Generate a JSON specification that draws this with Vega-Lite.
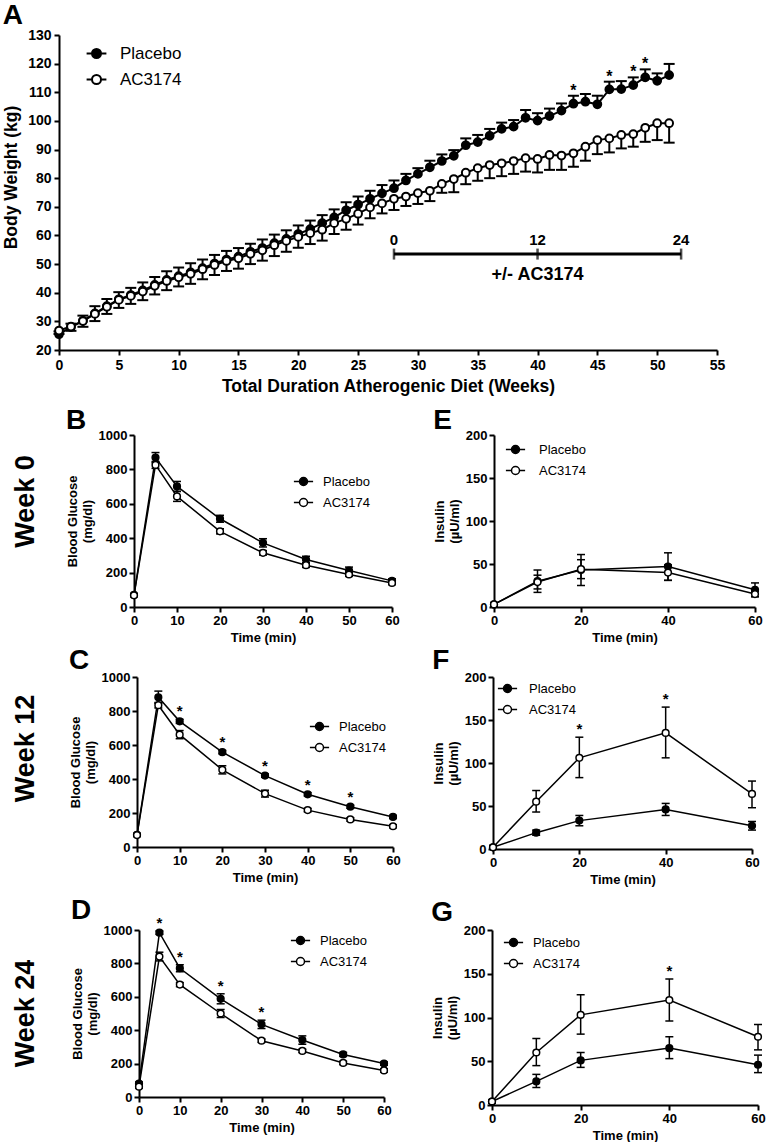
{
  "$schema": "https://vega.github.io/schema/vega-lite/v6.json",
  "background": "white",
  "padding": {"top": 2, "left": 2, "right": 0, "bottom": 0},
  "config": {
    "font": "Liberation Sans",
    "view": {"stroke": null},
    "axis": {"grid": false, "domainColor": "black", "domainWidth": 2, "tickColor": "black", "tickWidth": 2, "tickSize": 5, "labelColor": "black", "labelFontWeight": "bold", "titleColor": "black", "titleFontWeight": "bold", "labelFlush": false, "labelOverlap": false, "labelFontSize": 13, "titleFontSize": 13, "labelPadding": 2, "titlePadding": 4, "tickCount": 50},
    "title": {"color": "black", "fontWeight": "bold"},
    "legend": {"labelColor": "black", "labelFont": "Liberation Sans", "padding": 0}
  },
  "datasets": {
    "bw": [
      {"week":0,"group":"Placebo","bw":25.5,"err":26.5},{"week":1,"group":"Placebo","bw":28.0,"err":29.2},{"week":2,"group":"Placebo","bw":30.2,"err":32.0},{"week":3,"group":"Placebo","bw":32.8,"err":35.3},{"week":4,"group":"Placebo","bw":35.3,"err":37.8},{"week":5,"group":"Placebo","bw":37.7,"err":40.2},{"week":6,"group":"Placebo","bw":39.2,"err":41.7},{"week":7,"group":"Placebo","bw":40.8,"err":43.6},{"week":8,"group":"Placebo","bw":42.7,"err":45.5},{"week":9,"group":"Placebo","bw":44.5,"err":47.5},{"week":10,"group":"Placebo","bw":45.8,"err":48.8},{"week":11,"group":"Placebo","bw":47.1,"err":50.3},{"week":12,"group":"Placebo","bw":48.6,"err":51.6},{"week":13,"group":"Placebo","bw":50.2,"err":53.2},{"week":14,"group":"Placebo","bw":51.6,"err":54.6},{"week":15,"group":"Placebo","bw":52.6,"err":55.6},{"week":16,"group":"Placebo","bw":54.3,"err":57.1},{"week":17,"group":"Placebo","bw":55.6,"err":58.6},{"week":18,"group":"Placebo","bw":57.3,"err":60.3},{"week":19,"group":"Placebo","bw":58.8,"err":61.8},{"week":20,"group":"Placebo","bw":60.5,"err":63.5},{"week":21,"group":"Placebo","bw":62.2,"err":65.2},{"week":22,"group":"Placebo","bw":64.3,"err":67.1},{"week":23,"group":"Placebo","bw":66.3,"err":69.1},{"week":24,"group":"Placebo","bw":68.8,"err":71.6},{"week":25,"group":"Placebo","bw":70.8,"err":73.6},{"week":26,"group":"Placebo","bw":72.8,"err":75.6},{"week":27,"group":"Placebo","bw":74.7,"err":77.6},{"week":28,"group":"Placebo","bw":76.5,"err":79.2},{"week":29,"group":"Placebo","bw":79.2,"err":81.5},{"week":30,"group":"Placebo","bw":81.5,"err":83.5},{"week":31,"group":"Placebo","bw":83.8,"err":86.1},{"week":32,"group":"Placebo","bw":86.0,"err":88.3},{"week":33,"group":"Placebo","bw":87.8,"err":89.8},{"week":34,"group":"Placebo","bw":91.5,"err":93.9},{"week":35,"group":"Placebo","bw":92.6,"err":95.1},{"week":36,"group":"Placebo","bw":94.8,"err":97.2},{"week":37,"group":"Placebo","bw":97.2,"err":99.4},{"week":38,"group":"Placebo","bw":98.0,"err":100.3},{"week":39,"group":"Placebo","bw":101.1,"err":103.8},{"week":40,"group":"Placebo","bw":100.1,"err":102.7},{"week":41,"group":"Placebo","bw":101.7,"err":104.3},{"week":42,"group":"Placebo","bw":103.6,"err":106.1},{"week":43,"group":"Placebo","bw":106.0,"err":108.8,"sig":"*"},{"week":44,"group":"Placebo","bw":106.7,"err":109.4},{"week":45,"group":"Placebo","bw":105.8,"err":108.8},{"week":46,"group":"Placebo","bw":111.0,"err":113.7,"sig":"*"},{"week":47,"group":"Placebo","bw":111.1,"err":113.9},{"week":48,"group":"Placebo","bw":112.5,"err":115.2,"sig":"*"},{"week":49,"group":"Placebo","bw":115.2,"err":118.0,"sig":"*"},{"week":50,"group":"Placebo","bw":114.0,"err":116.6},{"week":51,"group":"Placebo","bw":116.0,"err":119.9},
      {"week":0,"group":"AC3174","bw":26.8,"err":25.6},{"week":1,"group":"AC3174","bw":28.2,"err":26.7},{"week":2,"group":"AC3174","bw":30.1,"err":28.1},{"week":3,"group":"AC3174","bw":32.6,"err":30.1},{"week":4,"group":"AC3174","bw":35.1,"err":32.6},{"week":5,"group":"AC3174","bw":37.5,"err":34.7},{"week":6,"group":"AC3174","bw":38.9,"err":36.1},{"week":7,"group":"AC3174","bw":40.4,"err":37.4},{"week":8,"group":"AC3174","bw":42.4,"err":39.4},{"week":9,"group":"AC3174","bw":44.1,"err":40.9},{"week":10,"group":"AC3174","bw":45.4,"err":42.2},{"week":11,"group":"AC3174","bw":46.6,"err":43.1},{"week":12,"group":"AC3174","bw":48.2,"err":44.7},{"week":13,"group":"AC3174","bw":49.7,"err":46.2},{"week":14,"group":"AC3174","bw":51.1,"err":47.6},{"week":15,"group":"AC3174","bw":52.0,"err":48.4},{"week":16,"group":"AC3174","bw":53.6,"err":50.0},{"week":17,"group":"AC3174","bw":54.8,"err":51.2},{"week":18,"group":"AC3174","bw":56.6,"err":52.8},{"week":19,"group":"AC3174","bw":58.1,"err":54.3},{"week":20,"group":"AC3174","bw":59.5,"err":55.7},{"week":21,"group":"AC3174","bw":60.8,"err":57.0},{"week":22,"group":"AC3174","bw":62.0,"err":58.2},{"week":23,"group":"AC3174","bw":64.3,"err":60.5},{"week":24,"group":"AC3174","bw":65.8,"err":62.0},{"week":25,"group":"AC3174","bw":67.6,"err":63.8},{"week":26,"group":"AC3174","bw":69.8,"err":66.0},{"week":27,"group":"AC3174","bw":71.2,"err":67.7},{"week":28,"group":"AC3174","bw":72.8,"err":68.9},{"week":29,"group":"AC3174","bw":73.6,"err":70.3},{"week":30,"group":"AC3174","bw":74.8,"err":71.0},{"week":31,"group":"AC3174","bw":75.6,"err":72.0},{"week":32,"group":"AC3174","bw":78.0,"err":74.9},{"week":33,"group":"AC3174","bw":79.7,"err":75.1},{"week":34,"group":"AC3174","bw":81.9,"err":77.9},{"week":35,"group":"AC3174","bw":83.5,"err":79.1},{"week":36,"group":"AC3174","bw":84.6,"err":80.0},{"week":37,"group":"AC3174","bw":85.2,"err":80.7},{"week":38,"group":"AC3174","bw":86.0,"err":81.5},{"week":39,"group":"AC3174","bw":87.0,"err":82.3},{"week":40,"group":"AC3174","bw":86.7,"err":82.0},{"week":41,"group":"AC3174","bw":88.1,"err":82.9},{"week":42,"group":"AC3174","bw":87.9,"err":82.9},{"week":43,"group":"AC3174","bw":88.7,"err":84.0},{"week":44,"group":"AC3174","bw":91.0,"err":86.1},{"week":45,"group":"AC3174","bw":93.3,"err":88.4},{"week":46,"group":"AC3174","bw":93.9,"err":89.0},{"week":47,"group":"AC3174","bw":95.1,"err":90.4},{"week":48,"group":"AC3174","bw":95.4,"err":91.0},{"week":49,"group":"AC3174","bw":97.6,"err":92.7},{"week":50,"group":"AC3174","bw":99.2,"err":93.3},{"week":51,"group":"AC3174","bw":99.2,"err":92.4}
    ],
    "treat": [{"week": 28, "label": "0"}, {"week": 40, "label": "12"}, {"week": 52, "label": "24"}],
    "treatbar": [{"start": 28, "end": 52, "mid": 40, "label": "+/- AC3174"}],
    "ogtt": [
      {"panel":"B","t":0,"group":"Placebo","v":70,"lo":62,"hi":78},{"panel":"B","t":5,"group":"Placebo","v":869,"lo":840,"hi":898},{"panel":"B","t":10,"group":"Placebo","v":701,"lo":672,"hi":730},{"panel":"B","t":20,"group":"Placebo","v":513,"lo":493,"hi":533},{"panel":"B","t":30,"group":"Placebo","v":373,"lo":349,"hi":397},{"panel":"B","t":40,"group":"Placebo","v":276,"lo":257,"hi":295},{"panel":"B","t":50,"group":"Placebo","v":212,"lo":192,"hi":232},{"panel":"B","t":60,"group":"Placebo","v":152,"lo":140,"hi":164},
      {"panel":"B","t":0,"group":"AC3174","v":68,"lo":60,"hi":76},{"panel":"B","t":5,"group":"AC3174","v":826,"lo":806,"hi":846},{"panel":"B","t":10,"group":"AC3174","v":643,"lo":614,"hi":672},{"panel":"B","t":20,"group":"AC3174","v":440,"lo":425,"hi":455},{"panel":"B","t":30,"group":"AC3174","v":315,"lo":302,"hi":328},{"panel":"B","t":40,"group":"AC3174","v":243,"lo":230,"hi":256},{"panel":"B","t":50,"group":"AC3174","v":189,"lo":178,"hi":200},{"panel":"B","t":60,"group":"AC3174","v":140,"lo":130,"hi":150},
      {"panel":"C","t":0,"group":"Placebo","v":72,"lo":64,"hi":80},{"panel":"C","t":5,"group":"Placebo","v":881,"lo":845,"hi":917},{"panel":"C","t":10,"group":"Placebo","v":739,"lo":727,"hi":751,"sig":"*"},{"panel":"C","t":20,"group":"Placebo","v":558,"lo":548,"hi":568,"sig":"*"},{"panel":"C","t":30,"group":"Placebo","v":420,"lo":410,"hi":430,"sig":"*"},{"panel":"C","t":40,"group":"Placebo","v":310,"lo":300,"hi":320,"sig":"*"},{"panel":"C","t":50,"group":"Placebo","v":237,"lo":228,"hi":246,"sig":"*"},{"panel":"C","t":60,"group":"Placebo","v":177,"lo":168,"hi":186},
      {"panel":"C","t":0,"group":"AC3174","v":70,"lo":62,"hi":78},{"panel":"C","t":5,"group":"AC3174","v":834,"lo":818,"hi":850},{"panel":"C","t":10,"group":"AC3174","v":661,"lo":637,"hi":685},{"panel":"C","t":20,"group":"AC3174","v":454,"lo":430,"hi":478},{"panel":"C","t":30,"group":"AC3174","v":314,"lo":294,"hi":334},{"panel":"C","t":40,"group":"AC3174","v":217,"lo":207,"hi":227},{"panel":"C","t":50,"group":"AC3174","v":162,"lo":152,"hi":172},{"panel":"C","t":60,"group":"AC3174","v":122,"lo":113,"hi":131},
      {"panel":"D","t":0,"group":"Placebo","v":80,"lo":70,"hi":90},{"panel":"D","t":5,"group":"Placebo","v":984,"lo":974,"hi":994,"sig":"*"},{"panel":"D","t":10,"group":"Placebo","v":771,"lo":750,"hi":792,"sig":"*"},{"panel":"D","t":20,"group":"Placebo","v":588,"lo":558,"hi":618,"sig":"*"},{"panel":"D","t":30,"group":"Placebo","v":435,"lo":410,"hi":460,"sig":"*"},{"panel":"D","t":40,"group":"Placebo","v":341,"lo":316,"hi":366},{"panel":"D","t":50,"group":"Placebo","v":255,"lo":243,"hi":267},{"panel":"D","t":60,"group":"Placebo","v":200,"lo":190,"hi":210},
      {"panel":"D","t":0,"group":"AC3174","v":62,"lo":52,"hi":72},{"panel":"D","t":5,"group":"AC3174","v":841,"lo":815,"hi":867},{"panel":"D","t":10,"group":"AC3174","v":673,"lo":661,"hi":685},{"panel":"D","t":20,"group":"AC3174","v":500,"lo":476,"hi":524},{"panel":"D","t":30,"group":"AC3174","v":337,"lo":327,"hi":347},{"panel":"D","t":40,"group":"AC3174","v":276,"lo":266,"hi":286},{"panel":"D","t":50,"group":"AC3174","v":204,"lo":194,"hi":214},{"panel":"D","t":60,"group":"AC3174","v":159,"lo":149,"hi":169},
      {"panel":"E","t":0,"group":"Placebo","v":3,"lo":1,"hi":5},{"panel":"E","t":10,"group":"Placebo","v":30,"lo":17,"hi":43},{"panel":"E","t":20,"group":"Placebo","v":43,"lo":25,"hi":61},{"panel":"E","t":40,"group":"Placebo","v":47,"lo":31,"hi":63},{"panel":"E","t":60,"group":"Placebo","v":20,"lo":12,"hi":28},
      {"panel":"E","t":0,"group":"AC3174","v":3,"lo":1,"hi":5},{"panel":"E","t":10,"group":"AC3174","v":29,"lo":21,"hi":37},{"panel":"E","t":20,"group":"AC3174","v":44,"lo":33,"hi":55},{"panel":"E","t":40,"group":"AC3174","v":40,"lo":31,"hi":49},{"panel":"E","t":60,"group":"AC3174","v":15,"lo":12,"hi":18},
      {"panel":"F","t":0,"group":"Placebo","v":2,"lo":0,"hi":4},{"panel":"F","t":10,"group":"Placebo","v":19,"lo":16,"hi":22},{"panel":"F","t":20,"group":"Placebo","v":33,"lo":27,"hi":39},{"panel":"F","t":40,"group":"Placebo","v":46,"lo":39,"hi":53},{"panel":"F","t":60,"group":"Placebo","v":27,"lo":22,"hi":32},
      {"panel":"F","t":0,"group":"AC3174","v":2,"lo":0,"hi":4},{"panel":"F","t":10,"group":"AC3174","v":55,"lo":43,"hi":68},{"panel":"F","t":20,"group":"AC3174","v":106,"lo":83,"hi":130,"sig":"*"},{"panel":"F","t":40,"group":"AC3174","v":135,"lo":106,"hi":165,"sig":"*"},{"panel":"F","t":60,"group":"AC3174","v":64,"lo":48,"hi":79},
      {"panel":"G","t":0,"group":"Placebo","v":4,"lo":2,"hi":6},{"panel":"G","t":10,"group":"Placebo","v":27,"lo":20,"hi":35},{"panel":"G","t":20,"group":"Placebo","v":51,"lo":43,"hi":60},{"panel":"G","t":40,"group":"Placebo","v":65,"lo":53,"hi":78},{"panel":"G","t":60,"group":"Placebo","v":46,"lo":37,"hi":57},
      {"panel":"G","t":0,"group":"AC3174","v":4,"lo":2,"hi":6},{"panel":"G","t":10,"group":"AC3174","v":60,"lo":45,"hi":76},{"panel":"G","t":20,"group":"AC3174","v":103,"lo":81,"hi":126},{"panel":"G","t":40,"group":"AC3174","v":120,"lo":96,"hi":144,"sig":"*"},{"panel":"G","t":60,"group":"AC3174","v":78,"lo":63,"hi":92}
    ]
  },
  "resolve": {"scale": {"x": "independent", "y": "independent", "fill": "independent"}, "legend": {"fill": "independent"}, "axis": {"x": "independent", "y": "independent"}},
  "spacing": 12,
  "vconcat": [
    {
      "width": 658, "height": 315,
      "title": {"text": "A", "fontSize": 28, "anchor": "start", "frame": "bounds", "offset": -2},
      "layer": [
        {"data": {"name": "bw"}, "mark": {"type": "line", "color": "black", "strokeWidth": 2},
         "encoding": {
           "x": {"field": "week", "type": "quantitative", "scale": {"domain": [0, 55], "nice": false}, "axis": {"values": [0,5,10,15,20,25,30,35,40,45,50,55], "tickCount": 50, "labelOverlap": false, "labelFontSize": 14, "titleFontSize": 17.5, "labelPadding": 3, "titlePadding": 5}, "title": "Total Duration Atherogenic Diet (Weeks)"},
           "y": {"field": "bw", "type": "quantitative", "scale": {"domain": [20, 130], "nice": false, "zero": false}, "axis": {"values": [20,30,40,50,60,70,80,90,100,110,120,130], "tickCount": 50, "labelOverlap": false, "labelFontSize": 14, "titleFontSize": 17.5, "labelPadding": 3, "titlePadding": 7, "titleY": 142}, "title": "Body Weight (kg)"},
           "detail": {"field": "group"}}},
        {"data": {"name": "bw"}, "mark": {"type": "rule", "color": "black", "strokeWidth": 2},
         "encoding": {
           "x": {"field": "week", "type": "quantitative", "title": "Total Duration Atherogenic Diet (Weeks)"},
           "y": {"field": "bw", "type": "quantitative", "title": "Body Weight (kg)"},
           "y2": {"field": "err"}}},
        {"data": {"name": "bw"}, "mark": {"type": "tick", "orient": "horizontal", "size": 11, "thickness": 2, "color": "black", "opacity": 1},
         "encoding": {
           "x": {"field": "week", "type": "quantitative", "title": "Total Duration Atherogenic Diet (Weeks)"},
           "y": {"field": "err", "type": "quantitative", "title": "Body Weight (kg)"}}},
        {"data": {"name": "bw"}, "mark": {"type": "point", "filled": true, "size": 60, "stroke": "black", "strokeWidth": 2, "opacity": 1},
         "encoding": {
           "x": {"field": "week", "type": "quantitative", "title": "Total Duration Atherogenic Diet (Weeks)"},
           "y": {"field": "bw", "type": "quantitative", "title": "Body Weight (kg)"},
           "fill": {"field": "group", "type": "nominal", "scale": {"domain": ["Placebo", "AC3174"], "range": ["black", "white"]},
             "legend": {"title": null, "orient": "none", "legendX": 29, "legendY": 10, "symbolType": "M-2.2,0H-1M1,0H2.2M-1,0A1,1,0,1,0,1,0A1,1,0,1,0,-1,0Z", "symbolSize": 81, "symbolStrokeColor": "black", "symbolStrokeWidth": 2, "labelFontSize": 17, "labelOffset": 15, "rowPadding": 8}}}},
        {"data": {"name": "bw"}, "transform": [{"filter": "datum.sig === '*'"}], "mark": {"type": "text", "fontSize": 16, "fontWeight": "bold", "baseline": "middle", "dy": -5, "color": "black"},
         "encoding": {
           "x": {"field": "week", "type": "quantitative", "title": "Total Duration Atherogenic Diet (Weeks)"},
           "y": {"field": "err", "type": "quantitative", "title": "Body Weight (kg)"},
           "text": {"field": "sig"}}},
        {"data": {"name": "treatbar"}, "mark": {"type": "rule", "color": "black", "strokeWidth": 3},
         "encoding": {
           "x": {"field": "start", "type": "quantitative", "title": "Total Duration Atherogenic Diet (Weeks)"},
           "x2": {"field": "end"},
           "y": {"datum": 53.5, "type": "quantitative"}}},
        {"data": {"name": "treat"}, "mark": {"type": "tick", "orient": "vertical", "size": 11, "thickness": 2.5, "color": "black"},
         "encoding": {
           "x": {"field": "week", "type": "quantitative", "title": "Total Duration Atherogenic Diet (Weeks)"},
           "y": {"datum": 53.5, "type": "quantitative"}}},
        {"data": {"name": "treat"}, "mark": {"type": "text", "fontSize": 15, "fontWeight": "bold", "baseline": "alphabetic", "align": "center", "color": "black"},
         "encoding": {
           "x": {"field": "week", "type": "quantitative", "title": "Total Duration Atherogenic Diet (Weeks)"},
           "y": {"datum": 56.7, "type": "quantitative"},
           "text": {"field": "label"}}},
        {"data": {"name": "treatbar"}, "mark": {"type": "text", "fontSize": 18, "fontWeight": "bold", "baseline": "alphabetic", "align": "center", "color": "black"},
         "encoding": {
           "x": {"field": "mid", "type": "quantitative", "title": "Total Duration Atherogenic Diet (Weeks)"},
           "y": {"datum": 44.5, "type": "quantitative"},
           "text": {"field": "label"}}}
      ]
    },
    {
      "spacing": 11,
      "resolve": {"scale": {"x": "independent", "y": "independent", "fill": "independent"}, "legend": {"fill": "independent"}, "axis": {"x": "independent", "y": "independent"}},
      "vconcat": [
        {
          "spacing": 3,
          "resolve": {"scale": {"x": "independent", "y": "independent", "fill": "independent"}, "legend": {"fill": "independent"}, "axis": {"x": "independent", "y": "independent"}},
          "vconcat": [
            {
              "spacing": 3,
              "resolve": {"scale": {"x": "independent", "y": "independent", "fill": "independent"}, "legend": {"fill": "independent"}, "axis": {"x": "independent", "y": "independent"}},
              "hconcat": [
                {
                  "width": 1, "height": 172,
                  "data": {"name": "ogtt"},
                  "transform": [{"filter": "datum.panel === 'B'"}],
                  "mark": {"type": "point", "opacity": 0},
                  "encoding": {"y": {"field": "v", "type": "quantitative", "scale": {"domain": [0, 1000], "nice": false}, "axis": {"domain": false, "ticks": false, "labels": false, "titleFontSize": 27, "titlePadding": 20, "titleY": 66}, "title": "Week 0"}}
                },
                {
                  "spacing": 33,
                  "resolve": {"scale": {"x": "independent", "y": "independent", "fill": "independent"}, "legend": {"fill": "independent"}, "axis": {"x": "independent", "y": "independent"}},
                  "hconcat": [
                    {
                      "width": 258, "height": 172,
                      "title": {"text": "B", "fontSize": 28, "anchor": "start", "frame": "bounds", "offset": -6},
                      "data": {"name": "ogtt"},
                      "transform": [{"filter": "datum.panel === 'B'"}],
                      "encoding": {"x": {"field": "t", "type": "quantitative", "scale": {"domain": [0, 60], "nice": false}, "axis": {"values": [0,10,20,30,40,50,60], "labelOverlap": false}, "title": "Time (min)"}},
                      "layer": [
                        {"mark": {"type": "line", "color": "black", "strokeWidth": 1.5}, "encoding": {"y": {"field": "v", "type": "quantitative", "scale": {"domain": [0, 1000], "nice": false}, "axis": {"values": [0,200,400,600,800,1000], "format": "d", "tickCount": 50, "labelOverlap": false}, "title": ["Blood Glucose", "(mg/dl)"]}, "detail": {"field": "group"}}},
                        {"mark": {"type": "rule", "color": "black", "strokeWidth": 1.5}, "encoding": {"y": {"field": "lo", "type": "quantitative", "title": ["Blood Glucose", "(mg/dl)"]}, "y2": {"field": "hi"}}},
                        {"mark": {"type": "tick", "orient": "horizontal", "size": 8, "thickness": 1.5, "color": "black", "opacity": 1}, "encoding": {"y": {"field": "hi", "type": "quantitative", "title": ["Blood Glucose", "(mg/dl)"]}}},
                        {"mark": {"type": "tick", "orient": "horizontal", "size": 8, "thickness": 1.5, "color": "black", "opacity": 1}, "encoding": {"y": {"field": "lo", "type": "quantitative", "title": ["Blood Glucose", "(mg/dl)"]}}},
                        {"mark": {"type": "point", "filled": true, "size": 45, "stroke": "black", "strokeWidth": 1.5, "opacity": 1}, "encoding": {"y": {"field": "v", "type": "quantitative", "title": ["Blood Glucose", "(mg/dl)"]}, "fill": {"field": "group", "type": "nominal", "scale": {"domain": ["Placebo", "AC3174"], "range": ["black", "white"]}, "legend": {"title": null, "orient": "none", "legendX": 163, "legendY": 40, "symbolType": "M-2.4,0H-1M1,0H2.4M-1,0A1,1,0,1,0,1,0A1,1,0,1,0,-1,0Z", "symbolSize": 64, "symbolStrokeColor": "black", "symbolStrokeWidth": 1.5, "labelFontSize": 13, "labelOffset": 13, "rowPadding": 6}}}},
                        {"transform": [{"filter": "datum.sig === '*'"}], "mark": {"type": "text", "fontSize": 15, "fontWeight": "bold", "baseline": "middle", "dy": -8, "color": "black"}, "encoding": {"y": {"field": "hi", "type": "quantitative", "title": ["Blood Glucose", "(mg/dl)"]}, "text": {"field": "sig"}}}
                      ]
                    },
                    {
                      "width": 261, "height": 172,
                      "title": {"text": "E", "fontSize": 28, "anchor": "start", "frame": "bounds", "offset": -6},
                      "data": {"name": "ogtt"},
                      "transform": [{"filter": "datum.panel === 'E'"}],
                      "encoding": {"x": {"field": "t", "type": "quantitative", "scale": {"domain": [0, 60], "nice": false}, "axis": {"values": [0,20,40,60], "labelOverlap": false}, "title": "Time (min)"}},
                      "layer": [
                        {"mark": {"type": "line", "color": "black", "strokeWidth": 1.5}, "encoding": {"y": {"field": "v", "type": "quantitative", "scale": {"domain": [0, 200], "nice": false}, "axis": {"values": [0,50,100,150,200], "tickCount": 50, "labelOverlap": false}, "title": ["Insulin", "(µU/ml)"]}, "detail": {"field": "group"}}},
                        {"mark": {"type": "rule", "color": "black", "strokeWidth": 1.5}, "encoding": {"y": {"field": "lo", "type": "quantitative", "title": ["Insulin", "(µU/ml)"]}, "y2": {"field": "hi"}}},
                        {"mark": {"type": "tick", "orient": "horizontal", "size": 8, "thickness": 1.5, "color": "black", "opacity": 1}, "encoding": {"y": {"field": "hi", "type": "quantitative", "title": ["Insulin", "(µU/ml)"]}}},
                        {"mark": {"type": "tick", "orient": "horizontal", "size": 8, "thickness": 1.5, "color": "black", "opacity": 1}, "encoding": {"y": {"field": "lo", "type": "quantitative", "title": ["Insulin", "(µU/ml)"]}}},
                        {"mark": {"type": "point", "filled": true, "size": 45, "stroke": "black", "strokeWidth": 1.5, "opacity": 1}, "encoding": {"y": {"field": "v", "type": "quantitative", "title": ["Insulin", "(µU/ml)"]}, "fill": {"field": "group", "type": "nominal", "scale": {"domain": ["Placebo", "AC3174"], "range": ["black", "white"]}, "legend": {"title": null, "orient": "none", "legendX": 15, "legendY": 8, "symbolType": "M-2.4,0H-1M1,0H2.4M-1,0A1,1,0,1,0,1,0A1,1,0,1,0,-1,0Z", "symbolSize": 64, "symbolStrokeColor": "black", "symbolStrokeWidth": 1.5, "labelFontSize": 13, "labelOffset": 17, "rowPadding": 6}}}},
                        {"transform": [{"filter": "datum.sig === '*'"}], "mark": {"type": "text", "fontSize": 15, "fontWeight": "bold", "baseline": "middle", "dy": -8, "color": "black"}, "encoding": {"y": {"field": "hi", "type": "quantitative", "title": ["Insulin", "(µU/ml)"]}, "text": {"field": "sig"}}}
                      ]
                    }
                  ]
                }
              ]
            },
            {
              "spacing": 6,
              "resolve": {"scale": {"x": "independent", "y": "independent", "fill": "independent"}, "legend": {"fill": "independent"}, "axis": {"x": "independent", "y": "independent"}},
              "hconcat": [
                {
                  "width": 1, "height": 170,
                  "data": {"name": "ogtt"},
                  "transform": [{"filter": "datum.panel === 'C'"}],
                  "mark": {"type": "point", "opacity": 0},
                  "encoding": {"y": {"field": "v", "type": "quantitative", "scale": {"domain": [0, 1000], "nice": false}, "axis": {"domain": false, "ticks": false, "labels": false, "titleFontSize": 27, "titlePadding": 20, "titleY": 71}, "title": "Week 12"}}
                },
                {
                  "spacing": 31,
                  "resolve": {"scale": {"x": "independent", "y": "independent", "fill": "independent"}, "legend": {"fill": "independent"}, "axis": {"x": "independent", "y": "independent"}},
                  "hconcat": [
                    {
                      "width": 256, "height": 170,
                      "title": {"text": "C", "fontSize": 28, "anchor": "start", "frame": "bounds", "offset": -4},
                      "data": {"name": "ogtt"},
                      "transform": [{"filter": "datum.panel === 'C'"}],
                      "encoding": {"x": {"field": "t", "type": "quantitative", "scale": {"domain": [0, 60], "nice": false}, "axis": {"values": [0,10,20,30,40,50,60], "labelOverlap": false}, "title": "Time (min)"}},
                      "layer": [
                        {"mark": {"type": "line", "color": "black", "strokeWidth": 1.5}, "encoding": {"y": {"field": "v", "type": "quantitative", "scale": {"domain": [0, 1000], "nice": false}, "axis": {"values": [0,200,400,600,800,1000], "format": "d", "tickCount": 50, "labelOverlap": false}, "title": ["Blood Glucose", "(mg/dl)"]}, "detail": {"field": "group"}}},
                        {"mark": {"type": "rule", "color": "black", "strokeWidth": 1.5}, "encoding": {"y": {"field": "lo", "type": "quantitative", "title": ["Blood Glucose", "(mg/dl)"]}, "y2": {"field": "hi"}}},
                        {"mark": {"type": "tick", "orient": "horizontal", "size": 8, "thickness": 1.5, "color": "black", "opacity": 1}, "encoding": {"y": {"field": "hi", "type": "quantitative", "title": ["Blood Glucose", "(mg/dl)"]}}},
                        {"mark": {"type": "tick", "orient": "horizontal", "size": 8, "thickness": 1.5, "color": "black", "opacity": 1}, "encoding": {"y": {"field": "lo", "type": "quantitative", "title": ["Blood Glucose", "(mg/dl)"]}}},
                        {"mark": {"type": "point", "filled": true, "size": 45, "stroke": "black", "strokeWidth": 1.5, "opacity": 1}, "encoding": {"y": {"field": "v", "type": "quantitative", "title": ["Blood Glucose", "(mg/dl)"]}, "fill": {"field": "group", "type": "nominal", "scale": {"domain": ["Placebo", "AC3174"], "range": ["black", "white"]}, "legend": {"title": null, "orient": "none", "legendX": 176, "legendY": 43, "symbolType": "M-2.4,0H-1M1,0H2.4M-1,0A1,1,0,1,0,1,0A1,1,0,1,0,-1,0Z", "symbolSize": 64, "symbolStrokeColor": "black", "symbolStrokeWidth": 1.5, "labelFontSize": 13, "labelOffset": 13, "rowPadding": 6}}}},
                        {"transform": [{"filter": "datum.sig === '*'"}], "mark": {"type": "text", "fontSize": 15, "fontWeight": "bold", "baseline": "middle", "dy": -8, "color": "black"}, "encoding": {"y": {"field": "hi", "type": "quantitative", "title": ["Blood Glucose", "(mg/dl)"]}, "text": {"field": "sig"}}}
                      ]
                    },
                    {
                      "width": 259, "height": 172,
                      "title": {"text": "F", "fontSize": 28, "anchor": "start", "frame": "bounds", "offset": -4},
                      "data": {"name": "ogtt"},
                      "transform": [{"filter": "datum.panel === 'F'"}],
                      "encoding": {"x": {"field": "t", "type": "quantitative", "scale": {"domain": [0, 60], "nice": false}, "axis": {"values": [0,20,40,60], "labelOverlap": false}, "title": "Time (min)"}},
                      "layer": [
                        {"mark": {"type": "line", "color": "black", "strokeWidth": 1.5}, "encoding": {"y": {"field": "v", "type": "quantitative", "scale": {"domain": [0, 200], "nice": false}, "axis": {"values": [0,50,100,150,200], "tickCount": 50, "labelOverlap": false}, "title": ["Insulin", "(µU/ml)"]}, "detail": {"field": "group"}}},
                        {"mark": {"type": "rule", "color": "black", "strokeWidth": 1.5}, "encoding": {"y": {"field": "lo", "type": "quantitative", "title": ["Insulin", "(µU/ml)"]}, "y2": {"field": "hi"}}},
                        {"mark": {"type": "tick", "orient": "horizontal", "size": 8, "thickness": 1.5, "color": "black", "opacity": 1}, "encoding": {"y": {"field": "hi", "type": "quantitative", "title": ["Insulin", "(µU/ml)"]}}},
                        {"mark": {"type": "tick", "orient": "horizontal", "size": 8, "thickness": 1.5, "color": "black", "opacity": 1}, "encoding": {"y": {"field": "lo", "type": "quantitative", "title": ["Insulin", "(µU/ml)"]}}},
                        {"mark": {"type": "point", "filled": true, "size": 45, "stroke": "black", "strokeWidth": 1.5, "opacity": 1}, "encoding": {"y": {"field": "v", "type": "quantitative", "title": ["Insulin", "(µU/ml)"]}, "fill": {"field": "group", "type": "nominal", "scale": {"domain": ["Placebo", "AC3174"], "range": ["black", "white"]}, "legend": {"title": null, "orient": "none", "legendX": 8, "legendY": 5, "symbolType": "M-2.4,0H-1M1,0H2.4M-1,0A1,1,0,1,0,1,0A1,1,0,1,0,-1,0Z", "symbolSize": 64, "symbolStrokeColor": "black", "symbolStrokeWidth": 1.5, "labelFontSize": 13, "labelOffset": 15, "rowPadding": 6}}}},
                        {"transform": [{"filter": "datum.sig === '*'"}], "mark": {"type": "text", "fontSize": 15, "fontWeight": "bold", "baseline": "middle", "dy": -8, "color": "black"}, "encoding": {"y": {"field": "hi", "type": "quantitative", "title": ["Insulin", "(µU/ml)"]}, "text": {"field": "sig"}}}
                      ]
                    }
                  ]
                }
              ]
            }
          ]
        },
        {
          "spacing": 8,
          "resolve": {"scale": {"x": "independent", "y": "independent", "fill": "independent"}, "legend": {"fill": "independent"}, "axis": {"x": "independent", "y": "independent"}},
          "hconcat": [
            {
              "width": 1, "height": 167,
              "data": {"name": "ogtt"},
              "transform": [{"filter": "datum.panel === 'D'"}],
              "mark": {"type": "point", "opacity": 0},
              "encoding": {"y": {"field": "v", "type": "quantitative", "scale": {"domain": [0, 1000], "nice": false}, "axis": {"domain": false, "ticks": false, "labels": false, "titleFontSize": 27, "titlePadding": 20, "titleY": 83}, "title": "Week 24"}}
            },
            {
              "spacing": 39,
              "resolve": {"scale": {"x": "independent", "y": "independent", "fill": "independent"}, "legend": {"fill": "independent"}, "axis": {"x": "independent", "y": "independent"}},
              "hconcat": [
                {
                  "width": 245, "height": 167,
                  "title": {"text": "D", "fontSize": 28, "anchor": "start", "frame": "bounds", "offset": -9},
                  "data": {"name": "ogtt"},
                  "transform": [{"filter": "datum.panel === 'D'"}],
                  "encoding": {"x": {"field": "t", "type": "quantitative", "scale": {"domain": [0, 60], "nice": false}, "axis": {"values": [0,10,20,30,40,50,60], "labelOverlap": false}, "title": "Time (min)"}},
                  "layer": [
                    {"mark": {"type": "line", "color": "black", "strokeWidth": 1.5}, "encoding": {"y": {"field": "v", "type": "quantitative", "scale": {"domain": [0, 1000], "nice": false}, "axis": {"values": [0,200,400,600,800,1000], "format": "d", "tickCount": 50, "labelOverlap": false}, "title": ["Blood Glucose", "(mg/dl)"]}, "detail": {"field": "group"}}},
                    {"mark": {"type": "rule", "color": "black", "strokeWidth": 1.5}, "encoding": {"y": {"field": "lo", "type": "quantitative", "title": ["Blood Glucose", "(mg/dl)"]}, "y2": {"field": "hi"}}},
                    {"mark": {"type": "tick", "orient": "horizontal", "size": 8, "thickness": 1.5, "color": "black", "opacity": 1}, "encoding": {"y": {"field": "hi", "type": "quantitative", "title": ["Blood Glucose", "(mg/dl)"]}}},
                    {"mark": {"type": "tick", "orient": "horizontal", "size": 8, "thickness": 1.5, "color": "black", "opacity": 1}, "encoding": {"y": {"field": "lo", "type": "quantitative", "title": ["Blood Glucose", "(mg/dl)"]}}},
                    {"mark": {"type": "point", "filled": true, "size": 45, "stroke": "black", "strokeWidth": 1.5, "opacity": 1}, "encoding": {"y": {"field": "v", "type": "quantitative", "title": ["Blood Glucose", "(mg/dl)"]}, "fill": {"field": "group", "type": "nominal", "scale": {"domain": ["Placebo", "AC3174"], "range": ["black", "white"]}, "legend": {"title": null, "orient": "none", "legendX": 155, "legendY": 4, "symbolType": "M-2.4,0H-1M1,0H2.4M-1,0A1,1,0,1,0,1,0A1,1,0,1,0,-1,0Z", "symbolSize": 64, "symbolStrokeColor": "black", "symbolStrokeWidth": 1.5, "labelFontSize": 13, "labelOffset": 13, "rowPadding": 6}}}},
                    {"transform": [{"filter": "datum.sig === '*'"}], "mark": {"type": "text", "fontSize": 15, "fontWeight": "bold", "baseline": "middle", "dy": -8, "color": "black"}, "encoding": {"y": {"field": "hi", "type": "quantitative", "title": ["Blood Glucose", "(mg/dl)"]}, "text": {"field": "sig"}}}
                  ]
                },
                {
                  "width": 266, "height": 175,
                  "title": {"text": "G", "fontSize": 28, "anchor": "start", "frame": "bounds", "offset": -3},
                  "data": {"name": "ogtt"},
                  "transform": [{"filter": "datum.panel === 'G'"}],
                  "encoding": {"x": {"field": "t", "type": "quantitative", "scale": {"domain": [0, 60], "nice": false}, "axis": {"values": [0,20,40,60], "labelOverlap": false}, "title": "Time (min)"}},
                  "layer": [
                    {"mark": {"type": "line", "color": "black", "strokeWidth": 1.5}, "encoding": {"y": {"field": "v", "type": "quantitative", "scale": {"domain": [0, 200], "nice": false}, "axis": {"values": [0,50,100,150,200], "tickCount": 50, "labelOverlap": false}, "title": ["Insulin", "(µU/ml)"]}, "detail": {"field": "group"}}},
                    {"mark": {"type": "rule", "color": "black", "strokeWidth": 1.5}, "encoding": {"y": {"field": "lo", "type": "quantitative", "title": ["Insulin", "(µU/ml)"]}, "y2": {"field": "hi"}}},
                    {"mark": {"type": "tick", "orient": "horizontal", "size": 8, "thickness": 1.5, "color": "black", "opacity": 1}, "encoding": {"y": {"field": "hi", "type": "quantitative", "title": ["Insulin", "(µU/ml)"]}}},
                    {"mark": {"type": "tick", "orient": "horizontal", "size": 8, "thickness": 1.5, "color": "black", "opacity": 1}, "encoding": {"y": {"field": "lo", "type": "quantitative", "title": ["Insulin", "(µU/ml)"]}}},
                    {"mark": {"type": "point", "filled": true, "size": 45, "stroke": "black", "strokeWidth": 1.5, "opacity": 1}, "encoding": {"y": {"field": "v", "type": "quantitative", "title": ["Insulin", "(µU/ml)"]}, "fill": {"field": "group", "type": "nominal", "scale": {"domain": ["Placebo", "AC3174"], "range": ["black", "white"]}, "legend": {"title": null, "orient": "none", "legendX": 15, "legendY": 6, "symbolType": "M-2.4,0H-1M1,0H2.4M-1,0A1,1,0,1,0,1,0A1,1,0,1,0,-1,0Z", "symbolSize": 64, "symbolStrokeColor": "black", "symbolStrokeWidth": 1.5, "labelFontSize": 13, "labelOffset": 13, "rowPadding": 6}}}},
                    {"transform": [{"filter": "datum.sig === '*'"}], "mark": {"type": "text", "fontSize": 15, "fontWeight": "bold", "baseline": "middle", "dy": -8, "color": "black"}, "encoding": {"y": {"field": "hi", "type": "quantitative", "title": ["Insulin", "(µU/ml)"]}, "text": {"field": "sig"}}}
                  ]
                }
              ]
            }
          ]
        }
      ]
    }
  ]
}
